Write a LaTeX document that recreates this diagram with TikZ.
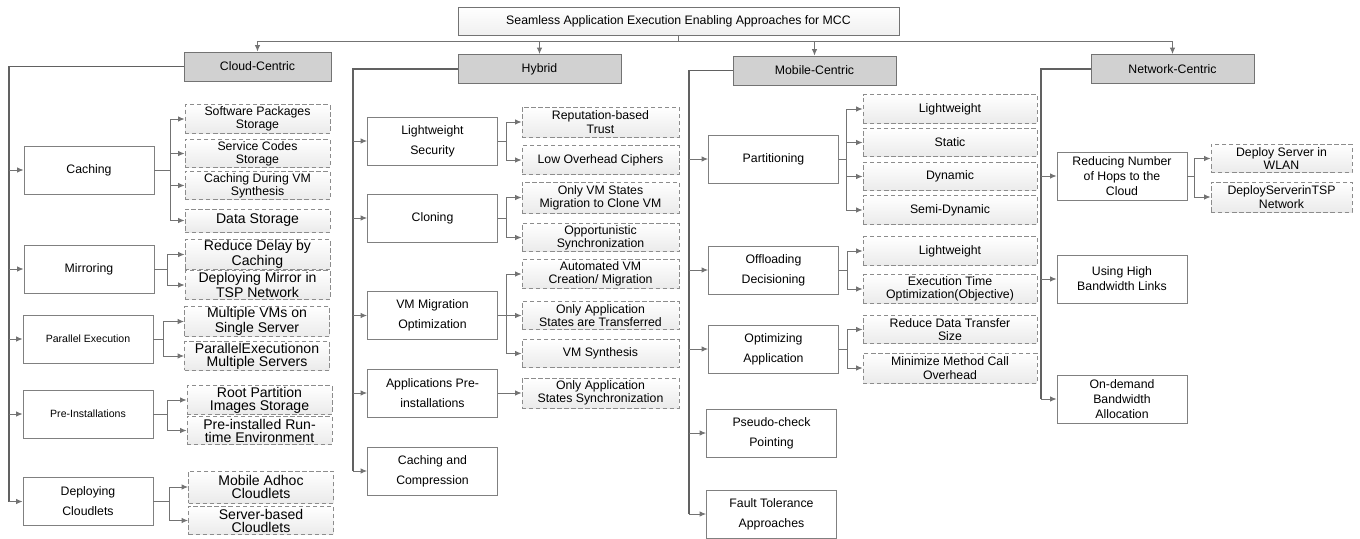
\documentclass[tikz,border=0pt]{standalone}
\usepackage{fontspec}
\setmainfont{Liberation Sans}
\usetikzlibrary{arrows.meta}

\begin{document}
\begin{tikzpicture}[>=Latex,x=0.02cm,y=-0.02cm,
  rootbox/.style={draw=black!55,line width=0.5pt,top color=white,bottom color=black!6,minimum width=8.82cm,minimum height=0.56cm,font=\fontsize{7}{8}\selectfont},
  catbox/.style={draw=black!55,line width=0.5pt,fill=black!18,minimum width=3.26cm,minimum height=0.58cm,font=\fontsize{7}{8}\selectfont},
  subbox/.style={draw=black!50,line width=0.5pt,fill=white,minimum width=2.6cm,minimum height=0.96cm,align=center,inner sep=1pt,font=\fontsize{7}{11.4}\selectfont},
  leafbox/.style={draw=black!45,line width=0.5pt,dash pattern=on 2.5pt off 1.5pt,top color=white,bottom color=black!8,minimum height=0.57cm,align=center,inner sep=0.5pt,font=\fontsize{7}{7.6}\selectfont},
  cleaf/.style={leafbox,minimum width=2.9cm},
  cbig/.style={cleaf,font=\fontsize{8}{7.4}\selectfont},
  hleaf/.style={leafbox,minimum width=3.14cm},
  mleaf/.style={leafbox,minimum width=3.48cm},
  nleaf/.style={leafbox,minimum width=2.82cm},
  trunk/.style={draw=black!62,line width=0.9pt},
  link/.style={draw=black!55,line width=0.5pt,-{Latex[length=1.3mm,width=1.1mm]}}]
\useasboundingbox (0,0) rectangle (1360,538);
\node[rootbox] (root) at (678.5,21) {Seamless Application Execution Enabling Approaches for MCC};
\node[catbox,minimum width=2.94cm] (cc) at (257.5,66.5) {Cloud-Centric};
\node[catbox] (hy) at (539.5,69) {Hybrid};
\node[catbox] (mc) at (814.5,70.5) {Mobile-Centric};
\node[catbox] (nc) at (1172.5,69) {Network-Centric};
\coordinate (bus) at (678.5,41);
\coordinate (ct) at (9,66.5);
\coordinate (ht) at (353,69);
\coordinate (mt) at (689,70.5);
\coordinate (nt) at (1041,69);

\node[subbox] (c0) at (89,170) {Caching};
\node[subbox] (c1) at (89,269) {Mirroring};
\node[subbox,font=\fontsize{6}{8}\selectfont] (c2) at (88,339) {Parallel Execution};
\node[subbox,font=\fontsize{6}{8}\selectfont] (c3) at (88,414) {Pre-Installations};
\node[subbox] (c4) at (88,501.5) {Deploying\\Cloudlets};
\node[cleaf] (c0a) at (257.5,119) {Software Packages\\Storage};
\node[cleaf] (c0b) at (257.5,153.5) {Service Codes\\Storage};
\node[cleaf] (c0c) at (257.5,185.5) {Caching During VM\\Synthesis};
\node[cbig,minimum height=0.46cm] (c0d) at (257.5,220.5) {Data Storage};
\node[cbig,minimum height=0.5cm] (c1a) at (257.5,254.5) {Reduce Delay by\\Caching};
\node[cbig] (c1b) at (257.5,285) {Deploying Mirror in\\TSP Network};
\node[cbig] (c2a) at (257,321.5) {Multiple VMs on\\Single Server};
\node[cbig] (c2b) at (257,356) {ParallelExecutionon\\Multiple Servers};
\node[cbig] (c3a) at (259.5,400) {Root Partition\\Images Storage};
\node[cbig] (c3b) at (259.5,430.5) {Pre-installed Run-\\time Environment};
\node[cbig,minimum height=0.64cm] (c4a) at (261,487) {Mobile Adhoc\\Cloudlets};
\node[cbig] (c4b) at (261,520.5) {Server-based\\Cloudlets};

\node[subbox] (h0) at (432.5,141) {Lightweight\\Security};
\node[subbox] (h1) at (432.5,218) {Cloning};
\node[subbox] (h2) at (432.5,315.5) {VM Migration\\Optimization};
\node[subbox] (h3) at (432.5,393) {Applications Pre-\\installations};
\node[subbox] (h4) at (432.5,471) {Caching and\\Compression};
\node[hleaf,minimum height=0.6cm] (h0a) at (600.5,122) {Reputation-based\\Trust};
\node[hleaf] (h0b) at (600.5,160) {Low Overhead Ciphers};
\node[hleaf,minimum height=0.62cm] (h1a) at (600.5,197.5) {Only VM States\\Migration to Clone VM};
\node[hleaf] (h1b) at (600.5,237.5) {Opportunistic\\Synchronization};
\node[hleaf] (h2a) at (600.5,274) {Automated VM\\Creation/ Migration};
\node[hleaf] (h2b) at (600.5,315.5) {Only Application\\States are Transferred};
\node[hleaf] (h2c) at (600.5,353.5) {VM Synthesis};
\node[hleaf,minimum height=0.6cm] (h3a) at (600.5,393) {Only Application\\States Synchronization};

\node[subbox] (m0) at (773.5,159) {Partitioning};
\node[subbox] (m1) at (773.5,270) {Offloading\\Decisioning};
\node[subbox] (m2) at (773.5,349) {Optimizing\\Application};
\node[subbox] (m3) at (771.5,433) {Pseudo-check\\Pointing};
\node[subbox] (m4) at (771.5,514) {Fault Tolerance\\Approaches};
\node[mleaf] (m0a) at (950,109) {Lightweight};
\node[mleaf] (m0b) at (950,142.5) {Static};
\node[mleaf] (m0c) at (950,176.5) {Dynamic};
\node[mleaf] (m0d) at (950,210) {Semi-Dynamic};
\node[mleaf] (m1a) at (950,251) {Lightweight};
\node[mleaf] (m1b) at (950,289) {Execution Time\\Optimization(Objective)};
\node[mleaf] (m2a) at (950,329.5) {Reduce Data Transfer\\Size};
\node[mleaf,minimum height=0.6cm] (m2b) at (950,368) {Minimize Method Call\\Overhead};

\node[subbox,font=\fontsize{7}{8.5}\selectfont] (n0) at (1122,176) {Reducing Number\\of Hops to the\\Cloud};
\node[subbox,font=\fontsize{7}{8.5}\selectfont] (n1) at (1122,279) {Using High\\Bandwidth Links};
\node[subbox,font=\fontsize{7}{8.5}\selectfont] (n2) at (1122,399) {On-demand\\Bandwidth\\Allocation};
\node[nleaf] (n0a) at (1281.5,158.5) {Deploy Server in\\WLAN};
\node[nleaf,minimum height=0.6cm] (n0b) at (1281.5,197) {DeployServerinTSP\\Network};

\draw[link] (root.south) -- (bus) -| (cc.north);
\draw[link] (bus) -| (hy.north);
\draw[link] (bus) -| (mc.north);
\draw[link] (bus) -| (nc.north);

\draw[trunk] (cc.west) -- (ct) -- (ct |- c4.west);
\draw[link] (ct |- c0.west) -- (c0.west);
\draw[link] (ct |- c1.west) -- (c1.west);
\draw[link] (ct |- c2.west) -- (c2.west);
\draw[link] (ct |- c3.west) -- (c3.west);
\draw[link] (ct |- c4.west) -- (c4.west);
\draw[trunk] (hy.west) -- (ht) -- (ht |- h4.west);
\draw[link] (ht |- h0.west) -- (h0.west);
\draw[link] (ht |- h1.west) -- (h1.west);
\draw[link] (ht |- h2.west) -- (h2.west);
\draw[link] (ht |- h3.west) -- (h3.west);
\draw[link] (ht |- h4.west) -- (h4.west);
\draw[trunk] (mc.west) -- (mt) -- (mt |- m4.west);
\draw[link] (mt |- m0.west) -- (m0.west);
\draw[link] (mt |- m1.west) -- (m1.west);
\draw[link] (mt |- m2.west) -- (m2.west);
\draw[link] (mt |- m3.west) -- (m3.west);
\draw[link] (mt |- m4.west) -- (m4.west);
\draw[trunk] (nc.west) -- (nt) -- (nt |- n2.west);
\draw[link] (nt |- n0.west) -- (n0.west);
\draw[link] (nt |- n1.west) -- (n1.west);
\draw[link] (nt |- n2.west) -- (n2.west);

\draw[link] (c0.east) -- ++(16,0) |- (c0a.west);
\draw[link] (c0.east) -- ++(16,0) |- (c0b.west);
\draw[link] (c0.east) -- ++(16,0) |- (c0c.west);
\draw[link] (c0.east) -- ++(16,0) |- (c0d.west);
\draw[link] (c1.east) -- ++(13,0) |- (c1a.west);
\draw[link] (c1.east) -- ++(13,0) |- (c1b.west);
\draw[link] (c2.east) -- ++(10,0) |- (c2a.west);
\draw[link] (c2.east) -- ++(10,0) |- (c2b.west);
\draw[link] (c3.east) -- ++(14,0) |- (c3a.west);
\draw[link] (c3.east) -- ++(14,0) |- (c3b.west);
\draw[link] (c4.east) -- ++(16,0) |- (c4a.west);
\draw[link] (c4.east) -- ++(16,0) |- (c4b.west);

\draw[link] (h0.east) -- ++(9,0) |- (h0a.west);
\draw[link] (h0.east) -- ++(9,0) |- (h0b.west);
\draw[link] (h1.east) -- ++(9,0) |- (h1a.west);
\draw[link] (h1.east) -- ++(9,0) |- (h1b.west);
\draw[link] (h2.east) -- ++(9,0) |- (h2a.west);
\draw[link] (h2.east) -- ++(9,0) |- (h2b.west);
\draw[link] (h2.east) -- ++(9,0) |- (h2c.west);
\draw[link] (h3.east) -- (h3a.west);

\draw[link] (m0.east) -- ++(8,0) |- (m0a.west);
\draw[link] (m0.east) -- ++(8,0) |- (m0b.west);
\draw[link] (m0.east) -- ++(8,0) |- (m0c.west);
\draw[link] (m0.east) -- ++(8,0) |- (m0d.west);
\draw[link] (m1.east) -- ++(9,0) |- (m1a.west);
\draw[link] (m1.east) -- ++(9,0) |- (m1b.west);
\draw[link] (m2.east) -- ++(9,0) |- (m2a.west);
\draw[link] (m2.east) -- ++(9,0) |- (m2b.west);

\draw[link] (n0.east) -- ++(7,0) |- (n0a.west);
\draw[link] (n0.east) -- ++(7,0) |- (n0b.west);
\end{tikzpicture}
\end{document}
